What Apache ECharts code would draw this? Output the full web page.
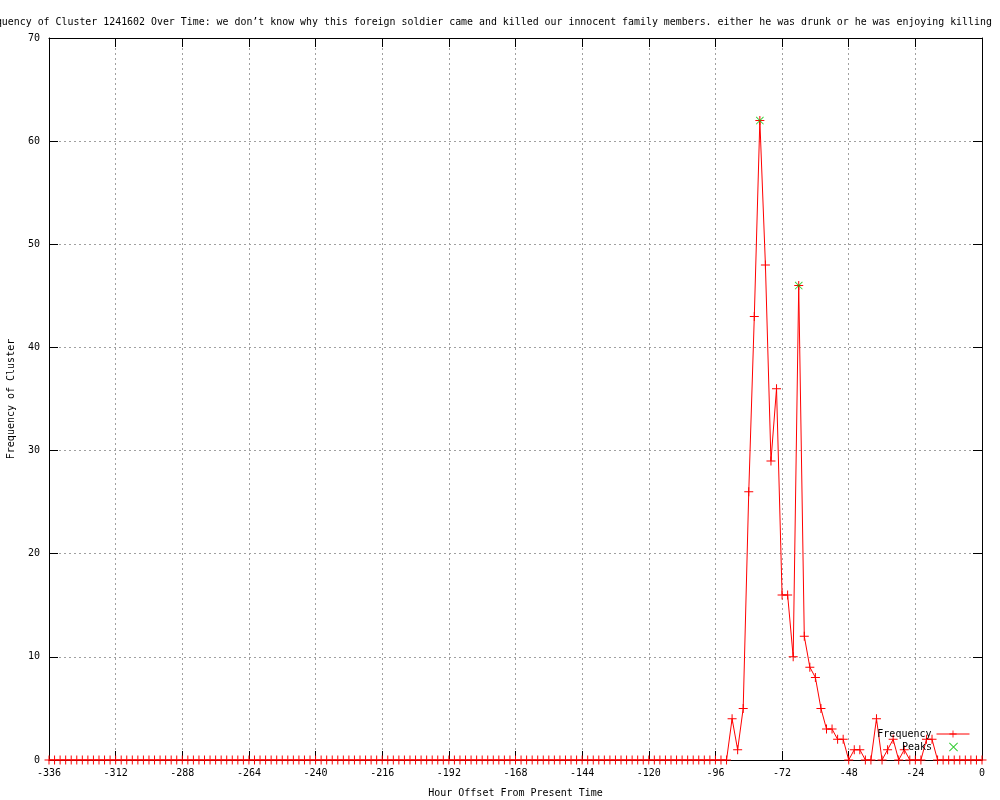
<!DOCTYPE html>
<html>
<head>
<meta charset="utf-8">
<script src="https://cdn.jsdelivr.net/npm/echarts@6/dist/echarts.min.js"></script>
<style>html,body{margin:0;padding:0;background:#fff}#c{width:1000px;height:800px}</style>
</head>
<body>
<div id="c"></div>
<script>
// Hour offsets run from -336 to 0 in steps of 2 (one sample every 2 hours)
const startHour = -336;
const stepHours = 2;
// Frequency values, one per 2-hour bin, from -336 to 0
const frequency = [
  0,0,0,0,0,0,0,0,0,0,0,0,0,0,0,0,0,0,0,0,
  0,0,0,0,0,0,0,0,0,0,0,0,0,0,0,0,0,0,0,0,
  0,0,0,0,0,0,0,0,0,0,0,0,0,0,0,0,0,0,0,0,
  0,0,0,0,0,0,0,0,0,0,0,0,0,0,0,0,0,0,0,0,
  0,0,0,0,0,0,0,0,0,0,0,0,0,0,0,0,0,0,0,0,
  0,0,0,0,0,0,0,0,0,0,0,0,0,0,0,0,0,0,0,0,
  0,0,0,
  4,1,5,26,43,62,48,29,36,16,
  16,10,46,12,9,8,5,3,3,2,
  2,0,1,1,0,0,4,0,1,2,
  0,1,0,0,0,2,2,0,0,0,
  0,0,0,0,0,0
];
const peakHours = [-80, -66];
const peakValues = [62, 46];
const titleText = "Frequency of Cluster 1241602 Over Time: we don\u2019t know why this foreign soldier came and killed our innocent family members. either he was drunk or he was enjoying killing";
const xName = "Hour Offset From Present Time";
const yName = "Frequency of Cluster";

const freqData = frequency.map((v, i) => [startHour + i * stepHours, v]);
const peakData = peakHours.map((h, i) => [h, peakValues[i]]);

const FONT = "DejaVu Sans Mono";
const plusPath = 'path://M0,4H9V5H0Z M4,0H5V9H4Z';
const crossPath = 'path://M0,0.7L0.7,0L9,8.3L8.3,9Z M8.3,0L9,0.7L0.7,9L0,8.3Z';

const chart = echarts.init(document.getElementById('c'), null, {renderer: 'canvas'});
const gridLine = {show: true, lineStyle: {color: '#a0a0a0', type: [2, 3], width: 1}};
const legendText = {fontFamily: FONT, fontSize: 10, color: '#000'};
chart.setOption({
  animation: false,
  backgroundColor: '#fff',
  title: {
    text: titleText,
    left: -27, top: 12,
    textStyle: {fontFamily: FONT, fontSize: 9.92, fontWeight: 'normal', color: '#000'}
  },
  grid: {left: 49, right: 18, top: 38, bottom: 40, containLabel: false, outerBoundsMode: 'none'},
  legend: [
    {
      data: [{name: 'Frequency'}], orient: 'vertical', right: 30, top: 729, align: 'right', padding: 0,
      itemWidth: 33, itemHeight: 9, itemGap: 4,
      lineStyle: {width: 1},
      textStyle: legendText
    },
    {
      data: [{name: 'Peaks', icon: crossPath}], orient: 'vertical', right: 42, top: 742, align: 'right', padding: 0,
      itemWidth: 33, itemHeight: 9, itemGap: 4,
      textStyle: legendText
    }
  ],
  xAxis: [
    {
      type: 'value', min: -336, max: 0, interval: 24, position: 'bottom',
      name: xName, nameLocation: 'middle', nameGap: 28,
      nameTextStyle: {fontFamily: FONT, fontSize: 10, color: '#000'},
      axisLine: {show: true, onZero: false, lineStyle: {color: '#000', width: 1}},
      axisTick: {show: true, inside: true, length: 9, lineStyle: {color: '#000'}},
      axisLabel: {fontFamily: FONT, fontSize: 10, color: '#000', margin: 8},
      splitLine: gridLine
    },
    {
      type: 'value', min: -336, max: 0, interval: 24, position: 'top',
      axisLine: {show: true, onZero: false, lineStyle: {color: '#000', width: 1}},
      axisTick: {show: true, inside: true, length: 9, lineStyle: {color: '#000'}},
      axisLabel: {show: false},
      splitLine: {show: false}
    }
  ],
  yAxis: [
    {
      type: 'value', min: 0, max: 70, interval: 10, position: 'left',
      name: yName, nameLocation: 'middle', nameGap: 33,
      nameTextStyle: {fontFamily: FONT, fontSize: 10, color: '#000'},
      axisLine: {show: true, onZero: false, lineStyle: {color: '#000', width: 1}},
      axisTick: {show: true, inside: true, length: 9, lineStyle: {color: '#000'}},
      axisLabel: {fontFamily: FONT, fontSize: 10, color: '#000', margin: 9},
      splitLine: gridLine
    },
    {
      type: 'value', min: 0, max: 70, interval: 10, position: 'right',
      axisLine: {show: true, onZero: false, lineStyle: {color: '#000', width: 1}},
      axisTick: {show: true, inside: true, length: 9, lineStyle: {color: '#000'}},
      axisLabel: {show: false},
      splitLine: {show: false}
    }
  ],
  series: [
    {
      name: 'Frequency', type: 'line', xAxisIndex: 0, yAxisIndex: 0,
      data: freqData,
      symbol: plusPath, symbolSize: 9, showAllSymbol: true,
      lineStyle: {color: '#ff0000', width: 1},
      itemStyle: {color: '#ff0000'},
      z: 3
    },
    {
      name: 'Peaks', type: 'scatter', xAxisIndex: 0, yAxisIndex: 0,
      data: peakData,
      symbol: crossPath, symbolSize: 8,
      itemStyle: {color: '#00c000'},
      z: 4
    }
  ]
});
</script>
</body>
</html>
